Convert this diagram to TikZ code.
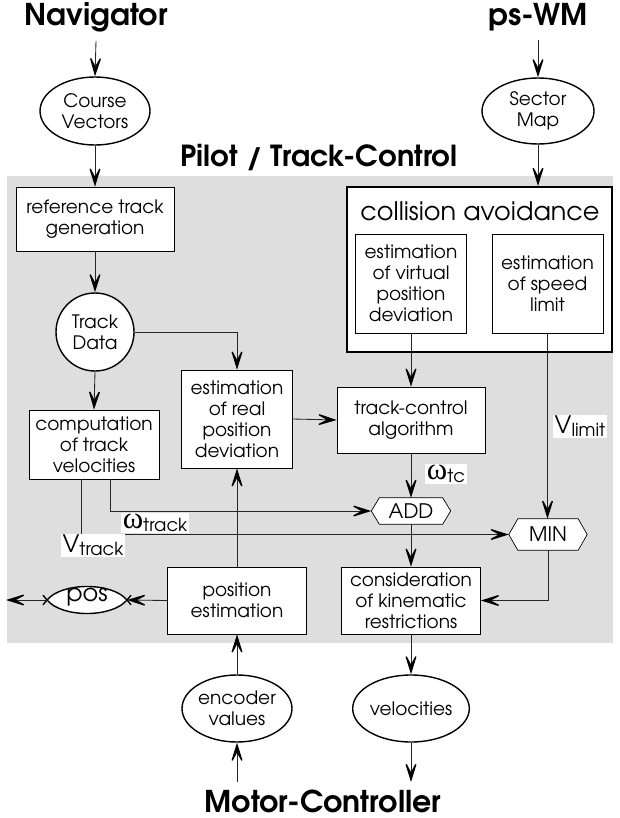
\documentclass[tikz,border=0pt]{standalone}
\usepackage{fontspec}
\setmainfont{TeX Gyre Adventor}
\newfontfamily\grk{Liberation Serif}
\usetikzlibrary{arrows.meta,calc,shapes.geometric}
\begin{document}
\begin{tikzpicture}[x=1pt,y=-1pt,
  every node/.style={inner sep=0pt},
  box/.style={draw, fill=white, line width=0.7pt, align=center, font=\fontsize{18.5}{21}\selectfont},
  oval/.style={ellipse, draw, fill=white, line width=1.4pt, align=center, font=\fontsize{18.5}{21}\selectfont},
  hexline/.style={draw, fill=white, line width=0.7pt},
  conn/.style={draw=black!85, line width=0.85pt, -{Stealth[length=24pt,width=15pt,inset=14pt,line width=1.3pt,fill=black,color=black]}},
  bigtitle/.style={font=\bfseries\fontsize{30}{32}\selectfont},
  lbl/.style={fill=white, inner sep=1.5pt, font=\fontsize{24}{24}\selectfont},
  omg/.style={}
]
\useasboundingbox (0,0) rectangle (619,818);
% gray background
\fill[gray!26] (7,176) rectangle (613,643);

% titles
\node[bigtitle] (nav) at (96,17) {Navigator};
\node[bigtitle] (ps) at (538,17) {ps-WM};
\node[bigtitle] (mc) at (323,801) {Motor-Controller};
\node[font=\bfseries\fontsize{29}{30}\selectfont] (pilot) at (319,158) {Pilot / Track-Control};

% outer ovals
\node[oval, minimum width=110pt, minimum height=68pt] (cv) at (95,111) {Course\\Vectors};
\node[oval, minimum width=112pt, minimum height=66pt] (sm) at (538,111) {Sector\\Map};
\node[oval, minimum width=110pt, minimum height=67pt] (enc) at (237,708.5) {encoder\\values};
\node[oval, minimum width=112pt, minimum height=67pt] (vel) at (411,708.5) {velocities};

% left column
\node[box, minimum width=158pt, minimum height=64pt] (ref) at (95,219) {reference track\\generation};
\node[circle, draw, fill=white, line width=1.4pt, minimum size=78pt, align=center, font=\fontsize{18.5}{21}\selectfont] (td) at (95,332) {Track\\Data};
\node[box, minimum width=130pt, minimum height=69pt] (comp) at (94,444.5) {computation\\of track\\velocities};
\node[box, minimum width=111pt, minimum height=98pt] (estreal) at (237,419) {estimation\\of real\\position\\deviation};
\node[box, minimum width=139pt, minimum height=67pt] (posest) at (237,600.5) {position\\estimation};

% collision avoidance
\node[draw, fill=white, line width=2.2pt, minimum width=265pt, minimum height=165pt] (coll) at (479.5,269.5) {};
\node[font=\fontsize{25.5}{28}\selectfont] (colltitle) at (480,211) {collision avoidance};
\node[box, minimum width=111pt, minimum height=99pt] (estvirt) at (411,283.5) {estimation\\of virtual\\position\\deviation};
\node[box, minimum width=111pt, minimum height=99pt] (speed) at (547.5,283.5) {estimation\\of speed\\limit};

% track control & kinematics
\node[box, minimum width=148pt, minimum height=66pt] (tc) at (411,420) {track-control\\algorithm};
\node[box, minimum width=139pt, minimum height=67pt] (cons) at (411,600.5) {consideration\\of kinematic\\restrictions};

% hexagons
\node[minimum width=79pt, minimum height=26pt] (add) at (411,511) {};
\draw[hexline] (add.west) -- ([xshift=8pt]add.north west) -- ([xshift=-8pt]add.north east) -- (add.east) -- ([xshift=-8pt]add.south east) -- ([xshift=8pt]add.south west) -- cycle;
\node[font=\fontsize{20}{22}\selectfont] (addtxt) at (add) {ADD};
\node[minimum width=78pt, minimum height=31pt] (min) at (548,534.5) {};
\draw[hexline] (min.west) -- ([xshift=9pt]min.north west) -- ([xshift=-9pt]min.north east) -- (min.east) -- ([xshift=-9pt]min.south east) -- ([xshift=9pt]min.south west) -- cycle;
\node[font=\fontsize{20}{22}\selectfont] (mintxt) at (min) {MIN};

% pos lens
\coordinate (posL) at (47,600);
\coordinate (posR) at (127,600);
\coordinate (outL) at (6,600);
\fill[white] (posL) .. controls (62,582) and (112,582) .. (posR) .. controls (112,618) and (62,618) .. (posL);
\draw[line width=1.4pt] (43,604.8) -- (posL) .. controls (62,582) and (112,582) .. (posR) -- (131,604.8);
\draw[line width=1.4pt] (43,595.2) -- (posL) .. controls (62,618) and (112,618) .. (posR) -- (131,595.2);
\node[font=\fontsize{24}{26}\selectfont] (pos) at (87,597) {pos};

% free ends
\coordinate (encin) at (237,782);
\coordinate (velout) at (411,782);

% connectors
\draw[conn] ([yshift=-9pt]nav.south) -- (cv.north);
\draw[conn] (cv.south) -- (ref.north);
\draw[conn] ([yshift=-9pt]ps.south) -- (sm.north);
\draw[conn] (sm.south) -- (coll.north -| sm.south);
\draw[conn] (ref.south) -- (td.north);
\draw[conn] (td.east) -| (estreal.north);
\draw[conn] (td.south) -- (comp.south |- comp.north);
\draw[conn] (estvirt.south) -- (tc.north);
\draw[conn] (estreal.east) -- (tc.west);
\draw[conn] (tc.south) -- (add.north);
\draw[conn] ($(comp.south)+(16,0)$) |- (add.west);
\draw[conn] ($(comp.south)+(-13,0)$) |- (min.west);
\draw[conn] (speed.south) -- (min.north -| speed.south);
\draw[conn] (add.south) -- (cons.north);
\draw[conn] (min.south) |- (cons.east);
\draw[conn] (posest.west) -- (posR);
\draw[conn] (posL) -- (outL);
\draw[conn] (posest.north) -- (estreal.south);
\draw[conn] (enc.north) -- (posest.south);
\draw[conn] (encin) -- (enc.south);
\draw[conn] (cons.south) -- (vel.north);
\draw[conn] (vel.south) -- (velout);

% labels
\node[lbl] (lwtc) at (446,474) {{\grk\fontsize{31}{24}\selectfont ω}\raisebox{-3pt}{\fontsize{18}{18}\selectfont tc}};
\node[lbl] (lvlim) at (580,426.5) {V\raisebox{-3pt}{\fontsize{18}{18}\selectfont limit}};
\node[lbl] (lwtr) at (155,523) {{\grk\fontsize{31}{24}\selectfont ω}\raisebox{-3pt}{\fontsize{18}{18}\selectfont track}};
\node[lbl] (lvtr) at (93,545.5) {V\raisebox{-3pt}{\fontsize{18}{18}\selectfont track}};
\end{tikzpicture}
\end{document}
